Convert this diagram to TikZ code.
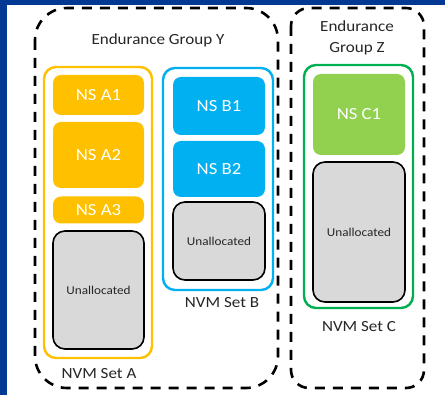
\documentclass[tikz,border=0pt]{standalone}
\usepackage{fontspec}
\setmainfont[FakeStretch=1.1]{Carlito}
\definecolor{frameblue}{RGB}{0,56,147}
\definecolor{setA}{RGB}{255,192,0}
\definecolor{setB}{RGB}{0,176,240}
\definecolor{setC}{RGB}{0,176,80}
\definecolor{nsC}{RGB}{146,208,80}
\definecolor{freegray}{RGB}{217,217,217}
\definecolor{labeltext}{RGB}{38,38,38}
\tikzset{
  egroup/.style={draw=black, line width=2.6pt, dash pattern=on 10pt off 8pt, fill=none},
  nvmset/.style={line width=2.4pt, rounded corners=12pt, fill=white, inner sep=0pt},
  nsbox/.style={draw=none, rounded corners=8pt, inner sep=0pt, text=white,
    font=\fontsize{17}{20}\selectfont},
  freebox/.style={draw=black, line width=1.6pt, fill=freegray, rounded corners=12pt,
    inner sep=0pt, text=labeltext, font=\fontsize{12}{14}\selectfont},
  caption/.style={text=labeltext, inner sep=0pt, align=center,
    font=\fontsize{15.5}{21}\selectfont},
}
\begin{document}
\begin{tikzpicture}[x=1pt, y=-1pt]
\useasboundingbox (0,0) rectangle (445,395);
\fill[white] (0,0) rectangle (445,395);
% slide frame edges
\fill[frameblue] (0,0) rectangle (445,5);
\fill[frameblue] (0,0) rectangle (7,395);

% endurance groups
\draw[egroup, rounded corners=32pt] (35,8) rectangle (278,388);
\draw[egroup, rounded corners=18pt] (291,8) rectangle (424,388);
\node[caption] (egy) at (158,40) {Endurance Group Y};
\node[caption] (egz) at (357,38) {Endurance\\Group Z};

% NVM set A
\node[nvmset, draw=setA, minimum width=108pt, minimum height=291pt] (seta) at (98,212.5) {};
\node[nsbox, fill=setA, minimum width=91pt, minimum height=40pt] (a1) at (98.5,95) {NS A1};
\node[nsbox, fill=setA, minimum width=91pt, minimum height=66pt] (a2) at (98.5,155) {NS A2};
\node[nsbox, fill=setA, minimum width=91pt, minimum height=27pt] (a3) at (98.5,210) {NS A3};
\node[freebox, minimum width=91pt, minimum height=118pt] (fa) at (98.5,290) {Unallocated};
\node[caption] (la) at (99,374) {NVM Set A};

% NVM set B
\node[nvmset, draw=setB, minimum width=110pt, minimum height=222pt] (setb) at (218,179) {};
\node[nsbox, fill=setB, minimum width=92pt, minimum height=58pt] (b1) at (219,106) {NS B1};
\node[nsbox, fill=setB, minimum width=92pt, minimum height=56pt] (b2) at (219,169) {NS B2};
\node[freebox, minimum width=92pt, minimum height=78pt] (fb) at (219,241) {Unallocated};
\node[caption] (lb) at (222,303) {NVM Set B};

% NVM set C
\node[nvmset, draw=setC, minimum width=109pt, minimum height=243pt] (setc) at (358.5,186.5) {};
\node[nsbox, fill=nsC, minimum width=92pt, minimum height=81pt] (c1) at (359,114.5) {NS C1};
\node[freebox, minimum width=92pt, minimum height=140pt] (fc) at (359,232) {Unallocated};
\node[caption] (lc) at (359,327) {NVM Set C};
\end{tikzpicture}
\end{document}
